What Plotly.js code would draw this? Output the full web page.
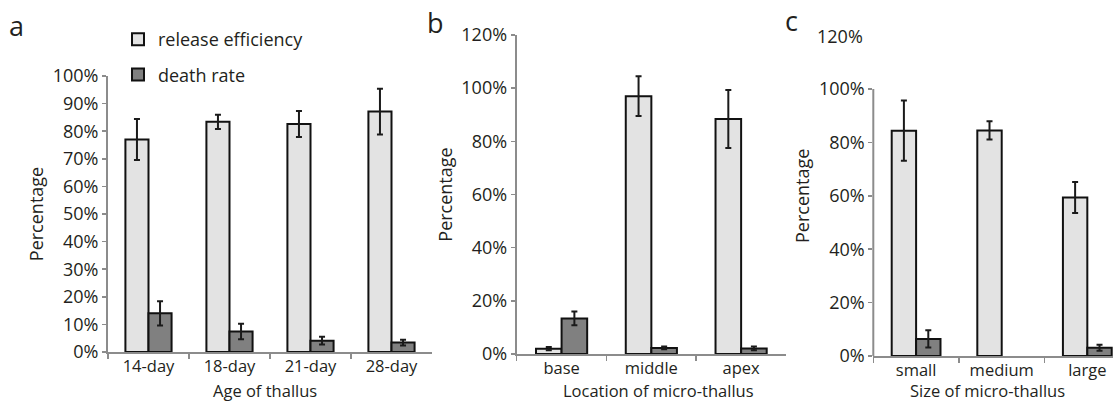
<!DOCTYPE html>
<html>
<head>
<meta charset="utf-8">
<script src="https://cdn.plot.ly/plotly-3.0.1.min.js"></script>
<style>html,body{margin:0;padding:0;background:#fff;}#chart{width:1113px;height:403px;}</style>
</head>
<body>
<div id="chart"></div>
<script>
// ---- data ----
const catsA = ['14-day', '18-day', '21-day', '28-day'];
const releaseA = [77.0, 83.4, 82.6, 87.1];
const releaseAErr = [7.4, 2.6, 4.7, 8.3];
const deathA = [14.0, 7.4, 4.1, 3.4];
const deathAErr = [4.4, 2.8, 1.4, 1.0];

const catsB = ['base', 'middle', 'apex'];
const releaseB = [2.0, 97.0, 88.4];
const releaseBErr = [0.6, 7.5, 10.9];
const deathB = [13.4, 2.3, 2.1];
const deathBErr = [2.6, 0.5, 0.7];

const catsC = ['small', 'medium', 'large'];
const releaseC = [84.4, 84.5, 59.4];
const releaseCErr = [11.3, 3.4, 5.8];
const deathC = [6.4, null, 3.1];
const deathCErr = [3.2, null, 1.1];

const seriesNames = ['release efficiency', 'death rate'];
const xTitles = ['Age of thallus', 'Location of micro-thallus', 'Size of micro-thallus'];
const ticksC = [0, 20, 40, 60, 80, 100];
const ticksCText = ['0%', '20%', '40%', '60%', '80%', '100%'];

// ---- styles ----
const FONT = 'Open Sans, sans-serif';
const TXT = '#231f20';
const LIGHT = '#e3e3e3';
const DARK = '#808080';
const AX = '#8c8c8c';
const W = 1113, H = 403;
const FS = 18;
const FSX = 16.5;

function errBar(arr) {
  return {type: 'data', array: arr, visible: true, color: '#1a1a1a', thickness: 2, width: 3};
}
function bar(x, y, err, name, color, xa, ya, showleg, grp) {
  return {
    type: 'bar', x: x, y: y, name: name, xaxis: xa, yaxis: ya,
    marker: {color: color, line: {color: '#111', width: 2}},
    error_y: errBar(err), showlegend: showleg, legendgroup: grp,
    hoverinfo: 'skip'
  };
}

const data = [
  bar(catsA, releaseA, releaseAErr, seriesNames[0], LIGHT, 'x', 'y', true, 'g1'),
  bar(catsA, deathA, deathAErr, seriesNames[1], DARK, 'x', 'y', true, 'g2'),
  bar(catsB, releaseB, releaseBErr, seriesNames[0], LIGHT, 'x2', 'y2', false, 'g1'),
  bar(catsB, deathB, deathBErr, seriesNames[1], DARK, 'x2', 'y2', false, 'g2'),
  bar(catsC, releaseC, releaseCErr, seriesNames[0], LIGHT, 'x3', 'y3', false, 'g1'),
  bar(catsC, deathC, deathCErr, seriesNames[1], DARK, 'x3', 'y3', false, 'g2')
];

function px(v) { return v / W; }
function py(v) { return (H - v) / H; }

function xaxis(domain, anchor, range) {
  const a = {
    domain: domain, anchor: anchor, type: 'category',
    showline: true, linecolor: AX, linewidth: 2,
    ticks: 'outside', tickson: 'boundaries', ticklen: 5, tickwidth: 1.5, tickcolor: AX,
    ticklabelstandoff: -2,
    showgrid: false, zeroline: false,
    tickfont: {family: FONT, size: FSX, color: TXT},
    fixedrange: true
  };
  if (range) a.range = range;
  return a;
}
function yaxis(domain, anchor, range, dtick, showline, tickvals, ticktext) {
  const a = {
    domain: domain, anchor: anchor, range: range,
    showline: showline, linecolor: AX, linewidth: 2,
    ticks: 'outside', ticklen: 4, tickwidth: 1.5, tickcolor: AX,
    showgrid: false, zeroline: false,
    tickfont: {family: FONT, size: FS, color: TXT},
    title: {text: 'Percentage', font: {family: FONT, size: FS, color: TXT}, standoff: 4},
    fixedrange: true
  };
  if (tickvals) { a.tickmode = 'array'; a.tickvals = tickvals; a.ticktext = ticktext; }
  else { a.dtick = dtick; a.tick0 = 0; a.ticksuffix = '%'; }
  return a;
}
function xTitle(text, cx) {
  return {text: text, xref: 'paper', yref: 'paper', x: px(cx), y: 0,
          xanchor: 'center', yanchor: 'bottom', showarrow: false, borderpad: 0,
          font: {family: FONT, size: FSX, color: TXT}};
}

const layout = {
  width: W, height: H,
  margin: {l: 0, r: 0, t: 0, b: 0},
  paper_bgcolor: '#fff', plot_bgcolor: 'rgba(0,0,0,0)',
  barmode: 'group', bargap: 0.43, bargroupgap: 0,
  font: {family: FONT, color: TXT},
  showlegend: true,
  legend: {
    x: px(118), y: py(21), xanchor: 'left', yanchor: 'top',
    font: {family: FONT, size: FS, color: TXT},
    traceorder: 'grouped', tracegroupgap: 9,
    bgcolor: 'rgba(0,0,0,0)', itemwidth: 30
  },
  xaxis: xaxis([px(108), px(432)], 'y'),
  yaxis: yaxis([py(352), py(76)], 'x', [0, 100], 10, true),
  xaxis2: xaxis([px(516.7), px(786)], 'y2'),
  yaxis2: yaxis([py(354), py(35)], 'x2', [0, 120], 20, true),
  xaxis3: xaxis([px(873.3), 1], 'y3', [-0.5, 2.3]),
  yaxis3: yaxis([py(356), py(35.6)], 'x3', [0, 120], null, false, ticksC, ticksCText),
  shapes: [
    {type: 'line', xref: 'x3 domain', yref: 'y3', x0: 0, x1: 0, y0: 0, y1: 100,
     line: {color: AX, width: 2}}
  ],
  annotations: [
    {text: 'a', xref: 'paper', yref: 'paper', x: px(16), y: py(25), xanchor: 'center', yanchor: 'middle',
     showarrow: false, font: {family: FONT, size: 27, color: TXT}},
    {text: 'b', xref: 'paper', yref: 'paper', x: px(435), y: py(23), xanchor: 'center', yanchor: 'middle',
     showarrow: false, font: {family: FONT, size: 27, color: TXT}},
    {text: 'c', xref: 'paper', yref: 'paper', x: px(791), y: py(20), xanchor: 'center', yanchor: 'middle',
     showarrow: false, font: {family: FONT, size: 27, color: TXT}},
    {text: '120%', xref: 'x3 domain', yref: 'y3', x: 0, y: 120, xanchor: 'right', yanchor: 'middle',
     xshift: -8, showarrow: false, font: {family: FONT, size: FS, color: TXT}},
    xTitle(xTitles[0], 265),
    xTitle(xTitles[1], 658),
    xTitle(xTitles[2], 987)
  ]
};

Plotly.newPlot('chart', data, layout, {staticPlot: true, displayModeBar: false});
</script>
</body>
</html>
